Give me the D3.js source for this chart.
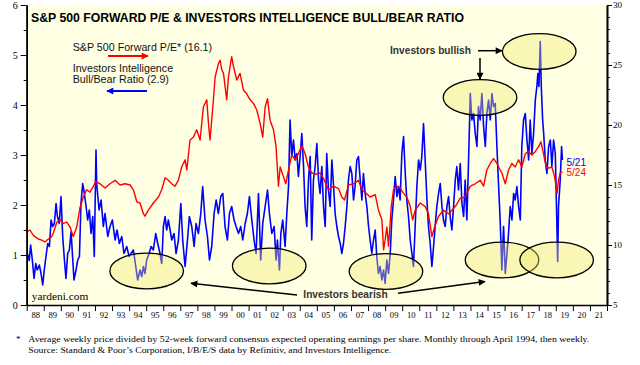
<!DOCTYPE html>
<html>
<head>
<meta charset="utf-8">
<script src="https://cdn.jsdelivr.net/npm/d3@7"></script>
<style>
body { margin: 0; background: #fff; }
svg { display: block; }
.tick text { font-family: "Liberation Serif", "Times New Roman", serif; fill: #000; }
</style>
</head>
<body>
<div id="chart"></div>
<script>
// forward P/E (right axis)
var peDates = [1988.00,1988.19,1988.39,1988.49,1988.68,1988.88,1989.07,1989.27,1989.46,1989.56,1989.76,1989.95,1990.15,1990.34,1990.54,1990.73,1990.93,1991.12,1991.32,1991.51,1991.71,1991.91,1992.04,1992.30,1992.59,1992.88,1993.18,1993.47,1993.76,1994.06,1994.25,1994.45,1994.64,1994.84,1994.93,1995.13,1995.42,1995.72,1995.91,1996.11,1996.30,1996.50,1996.69,
  1996.89,1997.08,1997.28,1997.38,1997.57,1997.77,1997.96,1998.16,1998.35,1998.55,1998.65,1998.74,1998.84,1998.94,1999.04,1999.23,1999.33,1999.43,1999.53,1999.72,1999.82,2000.01,2000.11,2000.31,2000.50,2000.70,2000.89,2001.09,2001.29,2001.48,2001.68,2001.83,2001.97,2002.11,2002.26,2002.46,2002.61,2002.75,2002.85,2003.04,2003.18,2003.34,2003.53,2003.73,2003.92,2004.12,2004.31,2004.51,2004.70,2004.90,
  2005.19,2005.39,2005.68,2005.97,2006.27,2006.46,2006.62,2006.85,2007.15,2007.44,2007.64,2007.83,2008.12,2008.42,2008.61,2008.81,2008.91,2009.00,2009.10,2009.20,2009.36,2009.49,2009.69,2009.88,2010.08,2010.27,2010.47,2010.61,2010.76,2011.06,2011.35,2011.54,2011.74,2011.90,2012.13,2012.42,2012.72,2012.91,2013.11,2013.40,
  2013.69,2013.99,2014.28,2014.57,2014.77,2014.96,2015.16,2015.35,2015.55,2015.74,2015.84,2016.04,2016.23,2016.43,2016.62,2016.82,2017.01,2017.21,2017.40,2017.60,2017.80,2017.99,2018.13,2018.28,2018.44,2018.58,2018.77,2018.93,2019.07,2019.16,2019.26,2019.39];
var peValues = [11.1,11.25,10.8,10.7,10.5,10.4,10.25,10.5,10.7,11.0,11.9,12.1,11.8,11.9,11.5,10.7,11.5,13.1,14.0,14.6,14.4,14.9,15.3,15.1,14.75,15.1,15.4,15.0,15.1,15.0,14.6,13.6,13.5,12.6,12.4,12.9,13.5,14.0,14.6,15.6,15.4,15.1,14.9,
  15.4,16.5,17.1,16.25,18.75,19.0,19.6,18.75,21.5,22.1,20.1,18.75,20.4,22.1,24.0,25.1,25.4,24.6,24.3,22.1,24.0,25.7,24.9,23.75,24.3,22.9,22.6,22.1,21.8,21.25,20.1,19.0,21.5,22.2,20.4,19.6,18.2,14.9,16.5,15.7,15.1,16.25,17.5,17.1,17.6,18.3,17.6,16.5,16.0,15.9,
  16.0,15.55,14.6,14.9,14.7,14.0,13.75,15.0,15.1,15.4,14.6,14.4,14.0,14.2,12.9,12.1,9.6,10.4,11.5,9.9,13.2,14.6,14.9,14.75,14.3,14.0,13.2,12.1,12.9,13.5,13.2,12.6,10.7,11.5,12.4,12.9,12.6,12.9,13.2,13.9,
  14.0,14.9,15.1,15.4,14.9,16.25,16.8,17.2,16.8,16.25,16.0,15.1,16.25,16.8,16.5,17.1,16.5,17.6,17.8,17.5,17.8,18.2,18.6,17.6,16.5,16.4,16.5,15.7,14.3,15.4,16.0,16.1];

// Investors Intelligence bull/bear ratio (left axis)
var bbDates = [1988.04,1988.15,1988.23,1988.33,1988.43,1988.53,1988.62,1988.74,1988.84,1988.94,1989.03,1989.13,1989.23,1989.33,1989.43,1989.52,1989.62,1989.72,1989.80,1989.91,1990.01,1990.11,1990.21,1990.30,1990.40,1990.50,1990.60,1990.70,1990.77,1990.89,1990.99,1991.09,1991.18,1991.28,1991.38,1991.48,1991.57,1991.67,1991.77,1991.87,1991.96,1992.06,
  1992.10,1992.24,1992.36,1992.49,1992.59,1992.75,1992.88,1993.02,1993.18,1993.29,1993.43,1993.57,1993.70,1993.86,1994.00,1994.11,1994.25,1994.39,1994.50,1994.64,1994.74,1994.84,1994.93,1995.03,1995.17,1995.29,1995.42,1995.56,1995.68,1995.81,1995.91,1996.01,1996.11,1996.20,1996.30,1996.40,
  1996.50,1996.63,1996.75,1996.89,1997.03,1997.14,1997.28,1997.42,1997.53,1997.67,1997.81,1997.92,1998.06,1998.20,1998.31,1998.45,1998.59,1998.71,1998.84,1998.98,1999.10,1999.23,1999.37,1999.49,1999.62,1999.76,1999.88,2000.01,2000.15,2000.27,2000.41,2000.54,2000.66,2000.80,2000.93,2001.05,2001.19,2001.32,2001.44,2001.58,2001.71,2001.83,2001.97,2002.11,2002.22,2002.36,2002.50,2002.61,2002.69,2002.81,2002.89,2003.00,2003.14,2003.24,2003.34,2003.43,2003.53,2003.63,2003.73,2003.83,2003.92,2004.02,2004.12,2004.22,2004.31,2004.41,2004.51,2004.61,2004.70,2004.80,
  2004.90,2005.00,2005.10,2005.19,2005.29,2005.39,2005.49,2005.58,2005.68,2005.78,2005.88,2005.97,2006.07,2006.17,2006.27,2006.37,2006.46,2006.56,2006.66,2006.76,2006.85,2006.95,2007.05,2007.15,2007.24,2007.34,2007.44,2007.54,2007.64,2007.73,2007.83,2007.93,2008.03,2008.12,2008.22,2008.32,2008.42,2008.51,2008.61,2008.71,2008.81,2008.91,2009.00,2009.10,2009.20,2009.30,2009.39,2009.49,2009.59,2009.69,2009.79,2009.88,2009.98,2010.08,2010.18,2010.27,2010.37,2010.47,2010.57,2010.66,2010.76,2010.86,2010.96,2011.06,2011.15,2011.25,2011.35,2011.45,2011.54,2011.64,2011.74,2011.84,2011.93,2012.03,2012.13,2012.23,2012.33,2012.42,2012.52,2012.62,2012.72,2012.81,2012.91,2013.01,2013.11,2013.20,2013.30,
  2013.40,2013.50,2013.60,2013.69,2013.79,2013.89,2013.99,2014.08,2014.18,2014.28,2014.38,2014.47,2014.57,2014.67,2014.77,2014.87,2014.96,2015.06,2015.16,2015.26,2015.35,2015.45,2015.55,2015.65,2015.74,2015.84,2015.94,2016.04,2016.14,2016.23,2016.33,2016.43,2016.53,2016.62,2016.72,2016.82,2016.92,2017.01,2017.11,2017.21,2017.31,2017.41,2017.50,2017.60,2017.70,2017.80,2017.89,2017.95,2018.01,2018.09,2018.15,2018.23,2018.29,2018.38,2018.48,2018.58,2018.68,2018.77,2018.87,2018.97,2019.05,2019.11,2019.16,2019.26,2019.34,2019.39];
var bbValues = [1.03,0.89,1.2,0.9,0.53,0.83,0.7,0.8,0.63,0.4,0.7,0.97,1.23,1.17,1.7,1.57,1.63,2.03,1.77,1.63,2.17,1.37,0.9,0.53,1.03,1.1,1.47,0.9,0.5,0.7,0.9,0.97,2.03,2.43,2.23,1.97,1.7,1.9,1.43,1.77,0.97,3.1,
  2.43,1.9,2.1,1.57,1.83,1.37,1.57,1.7,1.3,1.5,1.23,1.37,1.03,1.17,0.97,1.03,1.1,0.77,0.5,0.7,0.57,0.77,0.63,0.9,1.03,1.17,1.1,1.43,1.23,1.03,0.83,1.57,1.77,1.5,1.7,1.5,
  1.3,1.43,1.03,1.3,2.03,1.3,0.77,1.3,1.77,1.57,1.17,1.63,1.43,1.83,2.37,1.7,1.37,0.9,1.17,1.83,2.1,1.83,2.17,2.23,1.57,1.3,1.83,1.97,1.7,1.57,1.43,1.57,1.3,1.63,1.83,2.17,1.7,1.3,1.03,2.23,0.9,1.63,1.97,2.3,1.83,1.43,1.57,0.9,1.3,0.7,1.43,1.7,1.17,1.83,2.37,3.7,2.97,3.3,2.9,3.03,2.57,2.97,3.43,2.77,1.97,1.57,2.5,2.97,1.3,2.5,
  2.77,3.23,2.5,2.23,2.77,1.97,1.57,3.03,2.3,1.97,2.9,2.43,1.83,1.57,1.37,1.23,1.03,1.23,1.57,1.97,2.5,2.77,2.63,2.1,2.37,2.9,2.97,2.5,2.1,2.63,2.23,1.97,1.57,1.3,1.03,1.3,1.5,0.97,0.63,0.77,0.5,0.7,0.43,0.9,0.63,1.03,1.7,2.1,2.57,2.17,2.37,2.1,3.03,3.37,2.63,2.1,1.77,1.3,1.03,0.77,1.57,2.37,2.9,2.7,2.97,3.63,2.87,2.1,1.57,1.23,0.77,1.17,1.57,1.97,2.23,2.43,1.97,1.7,1.57,1.97,2.17,1.77,1.5,1.97,2.5,2.77,2.3,
  2.83,2.03,1.77,2.5,1.7,2.9,4.23,3.7,3.83,3.43,3.17,3.97,3.7,4.23,3.57,3.17,3.83,4.1,3.7,4.23,3.97,4.03,3.17,2.37,1.7,0.7,1.57,0.63,1.03,1.43,1.97,1.7,2.23,2.1,2.37,1.97,1.7,3.17,3.7,3.83,3.3,2.9,3.7,3.03,3.43,4.1,4.37,4.63,4.37,5.27,4.37,3.7,3.43,2.9,2.63,3.17,3.3,2.77,3.3,3.03,1.83,0.87,1.97,2.5,3.17,2.9];

var yearLabels = d3.range(1988, 2022);
var leftTicks = [0, 1, 2, 3, 4, 5, 6];
var rightTicks = [5, 10, 15, 20, 25, 30];

var w = 640;
var h = 365;

var x = d3.scaleLinear().domain([1988, 2022]).range([26.7, 607]);
var yLeft = d3.scaleLinear().domain([0, 6]).range([305, 5]);
var yRight = d3.scaleLinear().domain([5, 30]).range([305, 5]);

var svg = d3.select("#chart")
  .append("svg")
  .attr("width", w)
  .attr("height", h);

var defs = svg.append("defs");
function marker(id, color) {
  defs.append("marker")
    .attr("id", id)
    .attr("viewBox", "0 0 10 10")
    .attr("refX", 9).attr("refY", 5)
    .attr("markerUnits", "userSpaceOnUse")
    .attr("markerWidth", 8).attr("markerHeight", 7)
    .attr("orient", "auto")
    .append("path")
    .attr("d", "M0,0L10,5L0,10z")
    .attr("fill", color);
}
marker("arRed", "#ff0000");
marker("arBlue", "#0000ff");
marker("arBlack", "#000");

// pale yellow plot area
svg.append("rect")
  .attr("x", x(1988))
  .attr("y", yLeft(6))
  .attr("width", x(2022) - x(1988))
  .attr("height", yLeft(0) - yLeft(6))
  .attr("fill", "#ffffe4");

var bbData = d3.zip(bbDates, bbValues);
var peData = d3.zip(peDates, peValues);

svg.append("path")
  .datum(bbData)
  .attr("fill", "none")
  .attr("stroke", "#0000ff")
  .attr("stroke-width", 1.6)
  .attr("stroke-linejoin", "round")
  .attr("d", d3.line().x(function(d) { return x(d[0]); }).y(function(d) { return yLeft(d[1]); }));

svg.append("path")
  .datum(peData)
  .attr("fill", "none")
  .attr("stroke", "#ff0000")
  .attr("stroke-width", 1.4)
  .attr("stroke-linejoin", "round")
  .attr("d", d3.line().x(function(d) { return x(d[0]); }).y(function(d) { return yRight(d[1]); }));

// highlight ellipses (center year, center value on left axis)
var ellipses = [
  {cx: 1995.03, cy: 0.68},
  {cx: 2002.21, cy: 0.78},
  {cx: 2009.05, cy: 0.67},
  {cx: 2015.85, cy: 0.90},
  {cx: 2019.05, cy: 0.90},
  {cx: 2014.56, cy: 4.15},
  {cx: 2018.03, cy: 5.07}
];
svg.selectAll("ellipse")
  .data(ellipses)
  .enter()
  .append("ellipse")
  .attr("cx", function(d) { return x(d.cx); })
  .attr("cy", function(d) { return yLeft(d.cy); })
  .attr("rx", 36.8)
  .attr("ry", 17.8)
  .attr("fill", "#f3e86a")
  .attr("fill-opacity", 0.38)
  .attr("stroke", "#000")
  .attr("stroke-width", 1.3);

// axes
var leftAxis = svg.append("g")
  .attr("transform", "translate(" + x(1988) + ",0)")
  .call(d3.axisLeft(yLeft).tickValues(leftTicks).tickSize(6).tickSizeOuter(0).tickPadding(3).tickFormat(d3.format("d")));
leftAxis.selectAll("text").style("font-size", "10px");
svg.append("g")
  .attr("transform", "translate(" + x(1988) + ",0)")
  .call(d3.axisLeft(yLeft).tickValues(d3.range(0.5, 6, 1)).tickSize(3).tickSizeOuter(0).tickFormat(""));

var rightAxis = svg.append("g")
  .attr("transform", "translate(" + x(2022) + ",0)")
  .call(d3.axisRight(yRight).tickValues(rightTicks).tickSize(5).tickSizeOuter(0).tickPadding(1).tickFormat(d3.format("d")));
rightAxis.selectAll("text").style("font-size", "9px");
svg.append("g")
  .attr("transform", "translate(" + x(2022) + ",0)")
  .call(d3.axisRight(yRight).tickValues(d3.range(6, 30, 1).filter(function(v) { return v % 5 != 0; })).tickSize(3).tickSizeOuter(0).tickFormat(""));

svg.append("g")
  .attr("transform", "translate(0," + yLeft(0) + ")")
  .call(d3.axisBottom(x).tickValues(d3.range(1988, 2023)).tickSize(6).tickSizeOuter(0).tickFormat(""));
var bottomLabels = svg.append("g")
  .attr("transform", "translate(0," + yLeft(0) + ")")
  .call(d3.axisBottom(x).tickValues(yearLabels.map(function(y) { return y + 0.5; })).tickSize(0).tickPadding(6.5)
    .tickFormat(function(d) { return d3.format("02")(Math.floor(d) % 100); }));
bottomLabels.selectAll("text").style("font-size", "8.6px");
bottomLabels.select(".domain").remove();

svg.selectAll(".domain").attr("stroke", "#000").attr("stroke-width", 1.6);
svg.selectAll(".tick line").attr("stroke", "#000");

// title and legend
var labels = svg.append("g").attr("font-family", "'Liberation Sans', Arial, sans-serif");

labels.append("text")
  .text("S&P 500 FORWARD P/E & INVESTORS INTELLIGENCE BULL/BEAR RATIO")
  .attr("x", 31).attr("y", 21.5)
  .attr("font-size", 12.5)
  .attr("font-weight", "bold")
  .attr("textLength", 433)
  .attr("lengthAdjust", "spacingAndGlyphs");

labels.append("text").text("S&P 500 Forward P/E* (16.1)")
  .attr("x", 72.7).attr("y", 51.3).attr("font-size", 10.7).attr("fill", "#111");
labels.append("line")
  .attr("x1", 108).attr("x2", 148).attr("y1", 56).attr("y2", 56)
  .attr("stroke", "#ff0000").attr("stroke-width", 1.8).attr("marker-end", "url(#arRed)");
labels.append("text").text("Investors Intelligence")
  .attr("x", 72.7).attr("y", 72.3).attr("font-size", 10.7).attr("fill", "#111");
labels.append("text").text("Bull/Bear Ratio (2.9)")
  .attr("x", 72.7).attr("y", 83.3).attr("font-size", 10.7).attr("fill", "#111");
labels.append("line")
  .attr("x1", 147).attr("x2", 107).attr("y1", 91).attr("y2", 91)
  .attr("stroke", "#0000ff").attr("stroke-width", 1.8).attr("marker-end", "url(#arBlue)");

// end labels
labels.append("text").text("5/21")
  .attr("x", 566.5).attr("y", 165.5).attr("font-size", 10).attr("fill", "#0000ff");
labels.append("text").text("5/24")
  .attr("x", 566.5).attr("y", 175.5).attr("font-size", 10).attr("fill", "#ff0000");

// annotations
labels.append("text").text("Investors bullish")
  .attr("x", 390).attr("y", 53.5).attr("font-size", 10.2).attr("font-weight", "bold").attr("fill", "#333");
labels.append("line")
  .attr("x1", 478).attr("x2", 502).attr("y1", 50.7).attr("y2", 50.7)
  .attr("stroke", "#000").attr("stroke-width", 1.5).attr("marker-end", "url(#arBlack)");
labels.append("line")
  .attr("x1", 480).attr("x2", 480).attr("y1", 58).attr("y2", 79)
  .attr("stroke", "#000").attr("stroke-width", 1.5).attr("marker-end", "url(#arBlack)");

labels.append("text").text("Investors bearish")
  .attr("x", 303.3).attr("y", 298.3).attr("font-size", 10.2).attr("font-weight", "bold").attr("fill", "#333");
labels.append("line")
  .attr("x1", 297).attr("x2", 191).attr("y1", 295).attr("y2", 283.3)
  .attr("stroke", "#000").attr("stroke-width", 1.5).attr("marker-end", "url(#arBlack)");
labels.append("line")
  .attr("x1", 398).attr("x2", 485).attr("y1", 293.3).attr("y2", 281.5)
  .attr("stroke", "#000").attr("stroke-width", 1.5).attr("marker-end", "url(#arBlack)");

var serif = svg.append("g").attr("font-family", "'Liberation Serif', 'Times New Roman', serif");
serif.append("text").text("yardeni.com")
  .attr("x", 31.7).attr("y", 300).attr("font-size", 11.4);

serif.append("text").text("*")
  .attr("x", 16).attr("y", 342).attr("font-size", 9);
serif.append("text")
  .text("Average weekly price divided by 52-week forward consensus expected operating earnings per share. Monthly through April 1994, then weekly.")
  .attr("x", 28.3).attr("y", 342).attr("font-size", 9)
  .attr("textLength", 561).attr("lengthAdjust", "spacingAndGlyphs");
serif.append("text")
  .text("Source: Standard & Poor\u2019s Corporation, I/B/E/S data by Refinitiv, and Investors Intelligence.")
  .attr("x", 28.3).attr("y", 352.5).attr("font-size", 9)
  .attr("textLength", 363).attr("lengthAdjust", "spacingAndGlyphs");
</script>
</body>
</html>
